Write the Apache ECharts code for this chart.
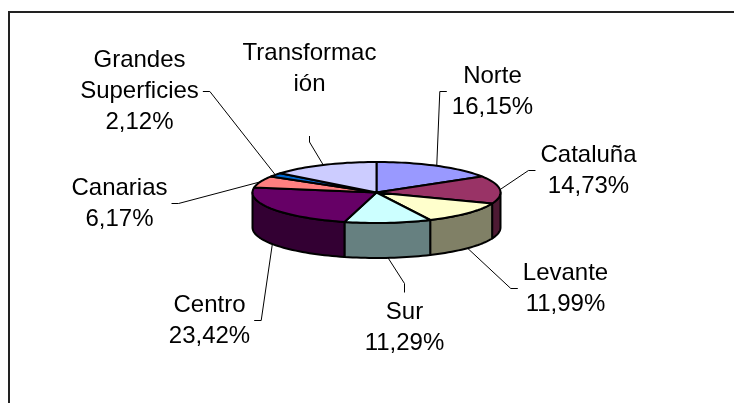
<!DOCTYPE html>
<html>
<head>
<meta charset="utf-8">
<script src="https://cdn.jsdelivr.net/npm/echarts@6/dist/echarts.min.js"></script>
<style>
  html, body { margin: 0; padding: 0; background: #fff; }
  #chart { width: 734px; height: 403px; }
</style>
</head>
<body>
<div id="chart"></div>
<script>
// data
const categories = ['Norte', 'Cataluña', 'Levante', 'Sur', 'Centro', 'Canarias', 'Grandes Superficies', 'Transformación'];
const labelNames = ['Norte', 'Cataluña', 'Levante', 'Sur', 'Centro', 'Canarias', 'Grandes\nSuperficies', 'Transformac\nión'];
const shares = [16.15, 14.73, 11.99, 11.29, 23.42, 6.17, 2.12, 14.13];
const showShare = [true, true, true, true, true, true, true, false];

// styles / layout
const topColors = ['#9999FF', '#993366', '#FFFFCC', '#CCFFFF', '#660066', '#FF8080', '#0066CC', '#CCCCFF'];
const sideColors = ['#4D4D80', '#4D1A33', '#808066', '#668080', '#330033', '#804040', '#003366', '#666680'];
// label block centre, relative to the pie centre
const labelOffsets = [[116, -101], [212, -22], [189, 96], [28, 135], [-167, 128], [-257, 11], [-237, -101], [-67, -108]];

const CX = 376.5, CY = 192.5, RX = 124, RY = 30.5, DEPTH = 35;
const FONT_SIZE = 24, LINE_H = 31, FONT_FAMILY = '"Liberation Sans", Arial, sans-serif';

const total = shares.reduce((s, v) => s + v, 0);
const starts = [];
let acc = 0;
shares.forEach(v => { starts.push(acc / total * 360); acc += v; });

const measureCtx = document.createElement('canvas').getContext('2d');
measureCtx.font = FONT_SIZE + 'px ' + FONT_FAMILY;

function rim (a, dy) {
  const r = a * Math.PI / 180;
  return [CX + RX * Math.sin(r), CY - RY * Math.cos(r) + (dy || 0)];
}

function arc (a1, a2, dy) {
  const pts = [];
  const n = Math.max(2, Math.ceil((a2 - a1) / 2));
  for (let k = 0; k <= n; k++) pts.push(rim(a1 + (a2 - a1) * k / n, dy));
  return pts;
}

function fmt (v) {
  return v.toFixed(2).replace('.', ',') + '%';
}

function renderItem (params, api) {
  const i = params.dataIndex;
  const v = api.value(0);
  const a1 = starts[i];
  const a2 = a1 + v / total * 360;
  const children = [];

  // top face
  children.push({
    type: 'polygon',
    z2: 10,
    shape: { points: [[CX, CY]].concat(arc(a1, a2, 0)) },
    style: { fill: topColors[i], stroke: '#000', lineWidth: 2, lineJoin: 'round' }
  });

  // visible outer wall (front half only)
  const b1 = Math.max(a1, 90), b2 = Math.min(a2, 270);
  if (b1 < b2) {
    children.push({
      type: 'polygon',
      z2: 5,
      shape: { points: arc(b1, b2, 0).concat(arc(b1, b2, DEPTH).reverse()) },
      style: { fill: sideColors[i], stroke: '#000', lineWidth: 2, lineJoin: 'round' }
    });
  }

  // label
  const mid = (a1 + a2) / 2;
  const back = Math.cos(mid * Math.PI / 180) >= 0;
  const anchor = rim(mid, back ? 0 : DEPTH);
  const text = labelNames[i] + '\n' + (showShare[i] ? fmt(v) : '');
  const lines = text.split('\n');
  const w = Math.max.apply(null, lines.map(s => measureCtx.measureText(s).width));
  const h = lines.length * LINE_H;
  const lx = CX + labelOffsets[i][0];
  const ly = CY + labelOffsets[i][1];

  let end, elbow;
  if (anchor[0] > lx - w / 2 && anchor[0] < lx + w / 2) {
    if (anchor[1] > ly) {
      end = [lx, ly + h / 2 + 5];
      elbow = [lx, end[1] + 6];
    } else {
      end = [lx, ly - h / 2 - 4];
      elbow = [lx, end[1] - 9];
    }
  } else if (anchor[0] < lx) {
    end = [lx - w / 2 - 5, ly];
    elbow = [end[0] - 7, ly];
  } else {
    end = [lx + w / 2 + 4, ly];
    elbow = [end[0] + 7, ly];
  }

  children.push({
    type: 'polyline',
    z2: 1,
    shape: { points: [anchor, elbow, end] },
    style: { stroke: '#000', lineWidth: 1, fill: null }
  });

  children.push({
    type: 'text',
    z2: 20,
    style: {
      text: text,
      x: lx,
      y: ly,
      align: 'center',
      verticalAlign: 'middle',
      fontSize: FONT_SIZE,
      fontFamily: FONT_FAMILY,
      lineHeight: LINE_H,
      fill: '#000'
    }
  });

  return { type: 'group', children: children };
}

const chart = echarts.init(document.getElementById('chart'), null, { renderer: 'canvas' });
chart.setOption({
  animation: false,
  backgroundColor: '#fff',
  graphic: [{
    type: 'rect',
    shape: { x: 9, y: 12, width: 800, height: 500 },
    style: { fill: null, stroke: '#222', lineWidth: 2 },
    silent: true
  }],
  series: [{
    type: 'custom',
    coordinateSystem: 'none',
    renderItem: renderItem,
    data: shares.map((v, i) => ({ name: categories[i], value: v }))
  }]
});
</script>
</body>
</html>
